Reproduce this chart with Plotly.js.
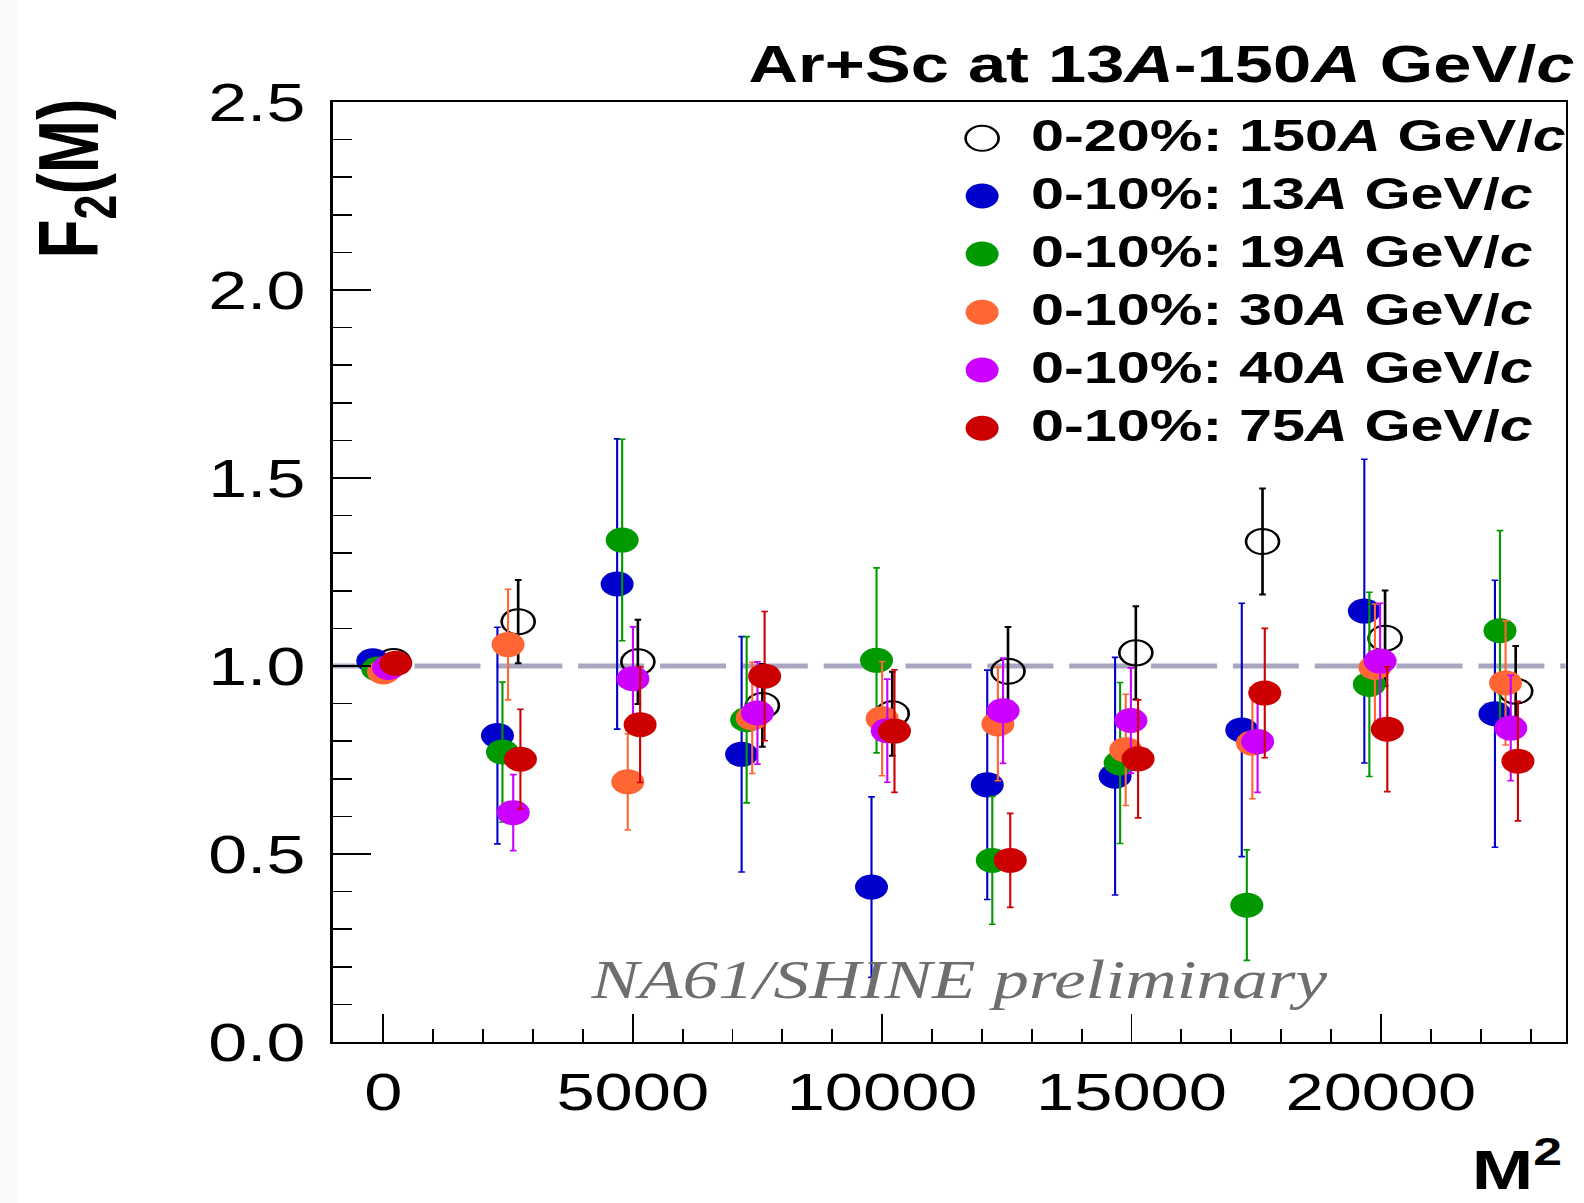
<!DOCTYPE html>
<html>
<head>
<meta charset="utf-8">
<script src="https://cdn.plot.ly/plotly-3.0.1.min.js"></script>
<style>
html, body { margin:0; padding:0; width:1584px; height:1203px; overflow:hidden;
  background: linear-gradient(to right, #f9f9f9 0px, #f9f9f9 17px, #ffffff 17px); }
#chart { width:1200px; height:1203px; transform: scaleX(1.32); transform-origin: 0 0; }
</style>
</head>
<body>
<div id="chart"></div>
<script>
// ---- data ----
const seriesNames = ["0-20%: 150<i>A</i> GeV/<i>c</i>", "0-10%: 13<i>A</i> GeV/<i>c</i>",
  "0-10%: 19<i>A</i> GeV/<i>c</i>", "0-10%: 30<i>A</i> GeV/<i>c</i>",
  "0-10%: 40<i>A</i> GeV/<i>c</i>", "0-10%: 75<i>A</i> GeV/<i>c</i>"];
const seriesColors = ["#000000", "#0000cc", "#009900", "#ff6633", "#cc00ff", "#cc0000"];

// M^2 positions (each energy drawn slightly shifted, as in the original)
const x150 = [204, 2703, 5103, 7599, 10203, 12524, 15087, 17627, 20084, 22703];
const x13  = [-212, 2287, 4687, 7183, 9787, 12108, 14671, 17211, 19668, 22287];
const x19  = [-111, 2388, 4788, 7284, 9888, 12209, 14772, 17312, 19769, 22388];
const x30  = [1, 2500, 4900, 7396, 10000, 12321, 14884, 17424, 19881, 22500];
const x40  = [105, 2604, 5004, 7500, 10104, 12425, 14988, 17528, 19985, 22604];
const x75  = [249, 2748, 5148, 7644, 10248, 12569, 15132, 17672, 20129, 22748];

// F2(M) values
const f150 = [1.012, 1.118, 1.011, 0.895, 0.873, 0.986, 1.035, 1.331, 1.074, 0.933];
const f13  = [1.014, 0.815, 1.218, 0.765, 0.412, 0.684, 0.707, 0.830, 1.146, 0.873];
const f19  = [0.992, 0.771, 1.335, 0.857, 1.015, 0.483, 0.742, 0.364, 0.951, 1.094];
const f30  = [0.984, 1.057, 0.692, 0.862, 0.860, 0.846, 0.777, 0.795, 0.996, 0.955];
const f40  = [0.996, 0.610, 0.966, 0.875, 0.828, 0.881, 0.855, 0.799, 1.013, 0.835];
const f75  = [1.007, 0.752, 0.844, 0.973, 0.827, 0.483, 0.753, 0.928, 0.832, 0.747];

// statistical errors
const e150 = [0.005, 0.111, 0.112, 0.110, 0.112, 0.118, 0.124, 0.141, 0.127, 0.120];
const e13  = [0.005, 0.288, 0.386, 0.313, 0.240, 0.305, 0.316, 0.337, 0.404, 0.355];
const e19  = [0.005, 0.186, 0.268, 0.221, 0.246, 0.170, 0.214, 0.147, 0.245, 0.266];
const e30  = [0.005, 0.147, 0.128, 0.148, 0.152, 0.151, 0.148, 0.148, 0.169, 0.165];
const e40  = [0.005, 0.101, 0.138, 0.136, 0.137, 0.140, 0.140, 0.135, 0.154, 0.140];
const e75  = [0.005, 0.133, 0.154, 0.172, 0.163, 0.125, 0.157, 0.172, 0.166, 0.159];

const refLevel = 1.0;
const xTickVals = [0, 5000, 10000, 15000, 20000];
const yTickVals = [0.0, 0.5, 1.0, 1.5, 2.0, 2.5];
const yTickText = ["0.0", "0.5", "1.0", "1.5", "2.0", "2.5"];

// ---- build ----
const allX = [x150, x13, x19, x30, x40, x75];
const allF = [f150, f13, f19, f30, f40, f75];
const allE = [e150, e13, e19, e30, e40, e75];

const traces = allX.map((xs, i) => {
  const open = (i === 0);
  return {
    type: 'scatter', mode: 'markers',
    x: xs, y: allF[i],
    name: seriesNames[i], showlegend: false, hoverinfo: 'skip',
    marker: {
      symbol: open ? 'circle-open' : 'circle',
      size: 25,
      color: seriesColors[i],
      line: { width: open ? 2 : 0, color: seriesColors[i] }
    },
    error_y: { type: 'data', array: allE[i], symmetric: true, visible: true,
               color: seriesColors[i], thickness: open ? 2 : 1.6, width: 2.5 }
  };
});

// legend (drawn manually, markers on an overlay axis spanning the plot area 0..1)
const legendMarkerX = 0.5268;
const legendRowsY = [0.9614, 0.9000, 0.8383, 0.7763, 0.7149, 0.6529];
traces.push({
  type: 'scatter', mode: 'markers', xaxis: 'x2', yaxis: 'y2',
  x: legendRowsY.map(() => legendMarkerX), y: legendRowsY,
  showlegend: false, hoverinfo: 'skip',
  marker: {
    size: 25,
    symbol: seriesColors.map((c, i) => i === 0 ? 'circle-open' : 'circle'),
    color: seriesColors,
    line: { width: seriesColors.map((c, i) => i === 0 ? 2 : 0), color: seriesColors }
  }
});

const FONT = 'Liberation Sans, Arial, Helvetica, sans-serif';
const annotations = legendRowsY.map((yy, i) => ({
  xref: 'paper', yref: 'paper', x: 0.564, y: yy + 0.003,
  xanchor: 'left', yanchor: 'middle', showarrow: false,
  text: '<b>' + seriesNames[i] + '</b>',
  font: { family: FONT, size: 45, color: '#000000' }
}));

annotations.push({
  xref: 'paper', yref: 'paper', x: 1.0095, y: 1.040,
  xanchor: 'right', yanchor: 'middle', showarrow: false,
  text: '<b>Ar+Sc at 13<i>A</i>-150<i>A</i> GeV/<i>c</i></b>',
  font: { family: FONT, size: 52, color: '#000000' }
});
annotations.push({
  xref: 'paper', yref: 'paper', x: 0.5075, y: 0.066,
  xanchor: 'center', yanchor: 'middle', showarrow: false,
  text: '<i>NA61/SHINE preliminary</i>',
  font: { family: 'Liberation Serif, Times New Roman, serif', size: 54, color: '#6e6e6e' }
});
annotations.push({
  xref: 'paper', yref: 'paper', x: 0.9987, y: -0.1713,
  xanchor: 'right', yanchor: 'bottom', showarrow: false,
  text: '<b>M<sup>2</sup></b>',
  font: { family: FONT, size: 56, color: '#000000' }
});
annotations.push({
  xref: 'paper', yref: 'paper', x: -0.2095, y: 0.919,
  xanchor: 'center', yanchor: 'middle', showarrow: false, textangle: -90,
  text: '<b>F<sub>2</sub>(M)</b>',
  font: { family: FONT, size: 64, color: '#000000' }
});

const layout = {
  width: 1200, height: 1203,
  margin: { l: 252, r: 14, t: 102, b: 161 },
  paper_bgcolor: 'rgba(0,0,0,0)', plot_bgcolor: 'rgba(0,0,0,0)',
  showlegend: false,
  xaxis: {
    range: [-1017, 23702], tickvals: xTickVals, ticktext: xTickVals.map(String),
    ticks: 'inside', ticklen: 28, tickwidth: 1.5, tickcolor: '#000',
    minor: { dtick: 1000, tick0: 0, ticks: 'inside', ticklen: 13, tickwidth: 1.5, tickcolor: '#000' },
    showline: true, linewidth: 2, linecolor: '#000', mirror: true,
    showgrid: false, zeroline: false,
    tickfont: { family: FONT, size: 52, color: '#000' },
    ticklabelstandoff: 4
  },
  yaxis: {
    range: [0, 2.5], tickvals: yTickVals, ticktext: yTickText,
    ticks: 'inside', ticklen: 29, tickwidth: 1.5, tickcolor: '#000',
    minor: { dtick: 0.1, tick0: 0, ticks: 'inside', ticklen: 14.5, tickwidth: 1.5, tickcolor: '#000' },
    showline: true, linewidth: 2, linecolor: '#000', mirror: true,
    showgrid: false, zeroline: false,
    tickfont: { family: FONT, size: 53, color: '#000' },
    ticklabelstandoff: 8
  },
  xaxis2: { overlaying: 'x', range: [0, 1], visible: false, fixedrange: true },
  yaxis2: { overlaying: 'y', range: [0, 1], visible: false, fixedrange: true },
  shapes: [{
    type: 'line', xref: 'paper', x0: 0, x1: 1, yref: 'y', y0: refLevel, y1: refLevel,
    layer: 'below', line: { color: '#aaa6c2', width: 5, dash: '50px,12px' }
  }],
  annotations: annotations
};

Plotly.newPlot('chart', traces, layout, { displayModeBar: false, staticPlot: true });
</script>
</body>
</html>
